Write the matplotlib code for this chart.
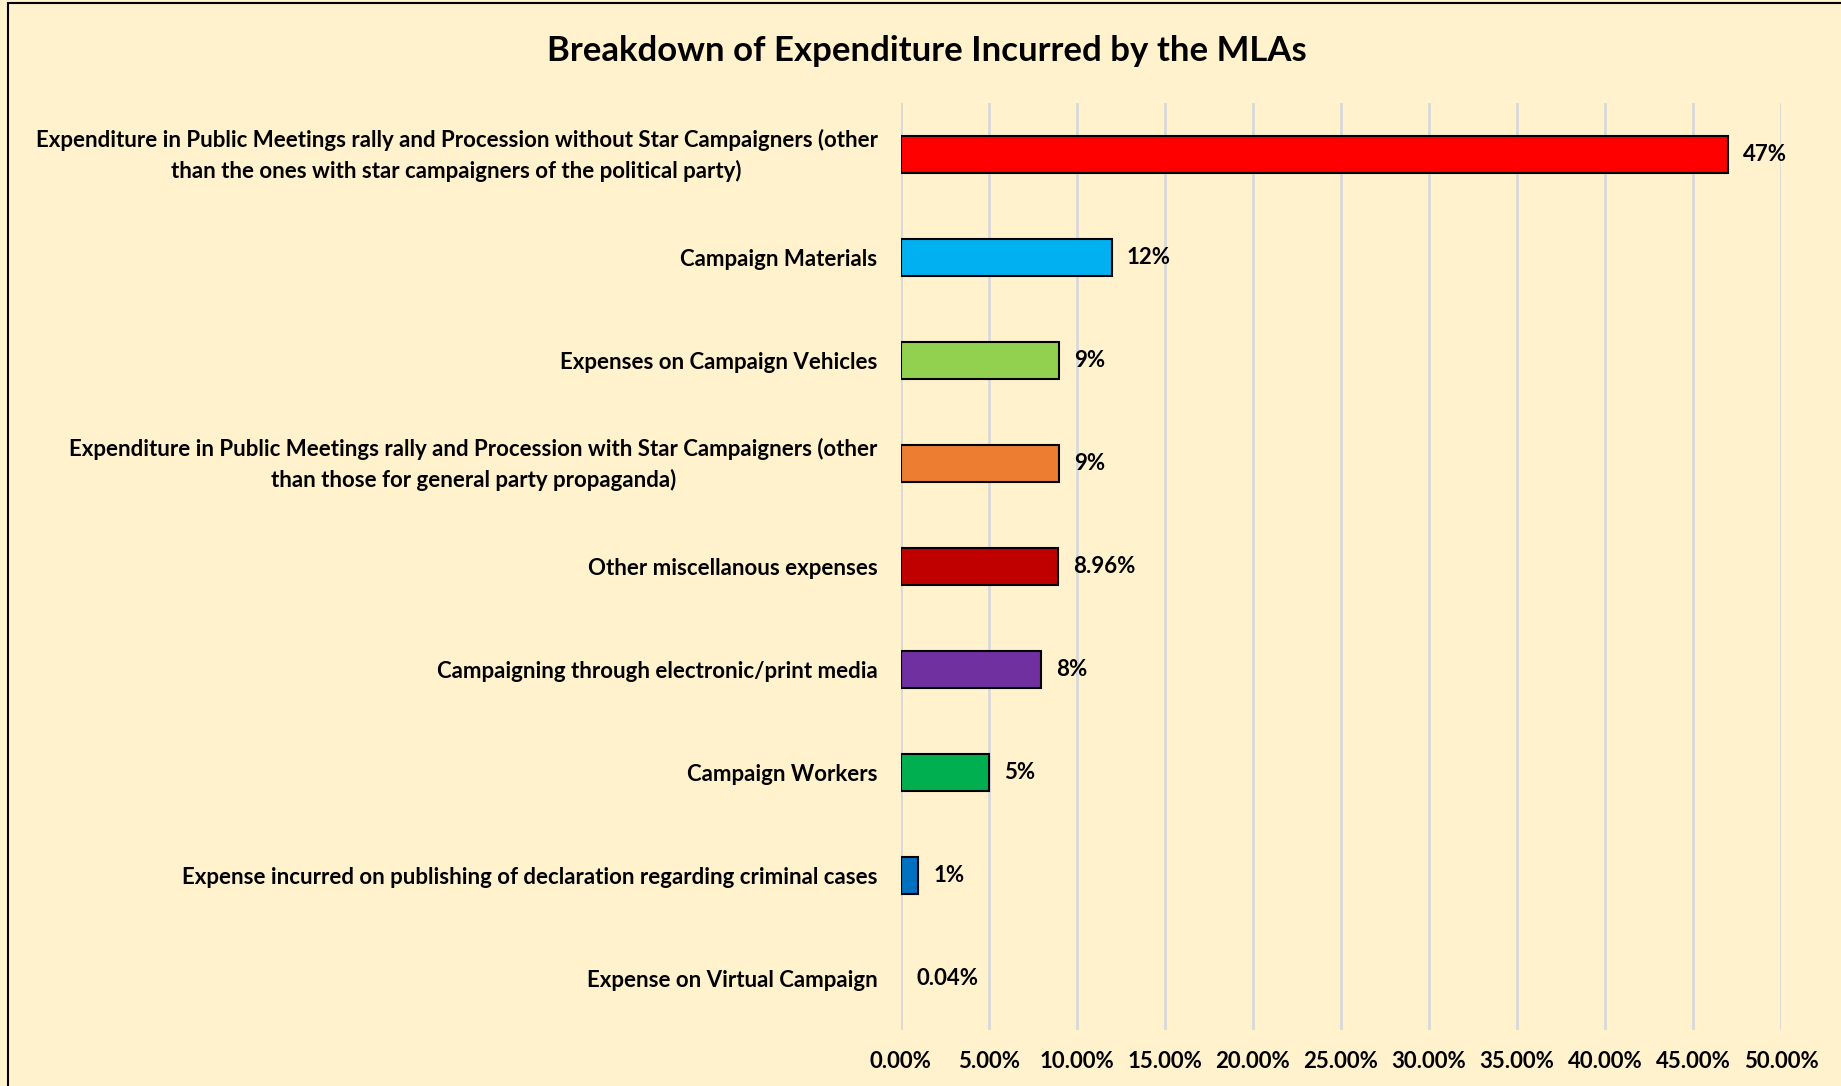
import matplotlib
matplotlib.use("Agg")
import matplotlib.pyplot as plt
import matplotlib.ticker as ticker
from matplotlib.patches import Rectangle

categories = [
    "Expenditure in Public Meetings rally and Procession without Star Campaigners (other\nthan the ones with star campaigners of the political party)",
    "Campaign Materials",
    "Expenses on Campaign Vehicles",
    "Expenditure in Public Meetings rally and Procession with Star Campaigners (other\nthan those for general party propaganda)",
    "Other miscellanous expenses",
    "Campaigning through electronic/print media",
    "Campaign Workers",
    "Expense incurred on publishing of declaration regarding criminal cases",
    "Expense on Virtual Campaign",
]
values = [47, 12, 9, 9, 8.96, 8, 5, 1, 0.04]
value_labels = ["47%", "12%", "9%", "9%", "8.96%", "8%", "5%", "1%", "0.04%"]
colors = ["#FF0000", "#00B0F0", "#92D050", "#ED7D31", "#C00000",
          "#7030A0", "#00B050", "#0070C0", "#FFC000"]
xticks = [0, 5, 10, 15, 20, 25, 30, 35, 40, 45, 50]

bg = "#FFF2CC"
plt.rcParams['font.family'] = ['Lato', 'DejaVu Sans']
plt.rcParams['font.weight'] = 'bold'

fig = plt.figure(figsize=(18.41, 10.86), dpi=100, facecolor=bg)
ax = fig.add_axes([0.4892, 0.0516, 0.4782, 0.8536])
ax.set_facecolor(bg)

y = list(range(len(categories)))
# the tiny 0.04% bar shows no outline in the original
edge_w = [1.5 if v >= 0.5 else 0 for v in values]
ax.barh(y, values, height=0.355, color=colors, edgecolor="black", linewidth=edge_w, zorder=3)
for yi, v, lab in zip(y, values, value_labels):
    ax.annotate(lab, (v, yi), xytext=(15, 0), textcoords="offset pixels",
                va="center", ha="left", fontsize=16, fontweight="bold")

ax.set_xlim(0, 50)
ax.set_ylim(len(categories) - 0.5, -0.5)
ax.set_xticks(xticks)
ax.xaxis.set_major_formatter(ticker.FuncFormatter(lambda v, p: f"{v:.2f}%"))
ax.set_yticks(y)
ax.set_yticklabels(categories, ha="center", multialignment="center", fontsize=16,
                   fontweight="bold", linespacing=1.45)
ax.tick_params(axis="y", length=0, pad=17)
ax.tick_params(axis="x", length=0, pad=15.5, labelsize=16)
for lab in ax.get_xticklabels():
    lab.set_fontweight("bold")

# center-aligned labels need shifting so their right edges sit at the pad
fig.canvas.draw()
renderer = fig.canvas.get_renderer()
ax_left = ax.get_window_extent().x0
for lab in ax.get_yticklabels():
    bb = lab.get_window_extent(renderer)
    shift = (ax_left - 23) - bb.x1
    dy = 5 if "\n" in lab.get_text() else 0
    lab.set_transform(lab.get_transform() + matplotlib.transforms.Affine2D().translate(shift, dy))

ax.grid(axis="x", color="#D9D9D9", linewidth=2, zorder=0)
for s in ax.spines.values():
    s.set_visible(False)

fig.text(0.5035, 0.953, "Breakdown of Expenditure Incurred by the MLAs",
         ha="center", va="center", fontsize=25, fontweight="bold")

fig.add_artist(Rectangle((8 / 1841, -0.05), 1.2, 1.05 - 3 / 1086, transform=fig.transFigure,
                         fill=False, edgecolor="black", linewidth=1.5))

fig.savefig("out.png", dpi=100, facecolor=bg)
